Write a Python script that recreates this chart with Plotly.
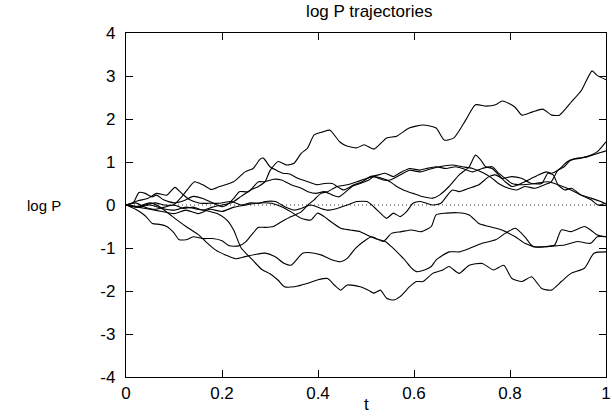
import plotly.graph_objects as go

TITLE = "log P trajectories"
X_LABEL = "t"
Y_LABEL = "log P"
X_TICKS = [0, 0.2, 0.4, 0.6, 0.8, 1.0]
X_TICK_TEXT = ["0", "0.2", "0.4", "0.6", "0.8", "1"]
Y_TICKS = [-4, -3, -2, -1, 0, 1, 2, 3, 4]
Y_TICK_TEXT = ["-4", "-3", "-2", "-1", "0", "1", "2", "3", "4"]
ZERO_T = [0, 1]
ZERO_V = [0, 0]

T_A = [0, .02, .04, .06, .08, .1, .12, .14, .16, .18, .2, .22, .24, .26, .276, .29, .3, .317, .335, .35, .365, .378, .392, .41, .425, .445, .46, .481, .496, .517, .543, .564, .59, .619, .646, .663, .683, .708, .728, .75, .77, .784, .81, .825, .846, .868, .887, .903, .928, .949, .971, .981, 1.0]
V_A = [0, .05, -.05, -.1, -.05, 0, -.08, -.05, -.12, -.05, 0, .05, .2, .35, .43, .55, .8, 1.01, .93, .97, 1.2, 1.32, 1.63, 1.7, 1.74, 1.47, 1.37, 1.33, 1.40, 1.30, 1.56, 1.6, 1.79, 1.86, 1.79, 1.51, 1.56, 1.98, 2.33, 2.3, 2.33, 2.42, 2.28, 2.09, 2.16, 2.23, 2.09, 2.09, 2.40, 2.67, 3.12, 3.02, 2.91]

T_B = [0, .015, .027, .04, .054, .064, .078, .1, .12, .14, .16, .18, .2, .21, .225, .236, .255, .276, .29, .307, .324, .344, .365, .379, .396, .413, .43, .444, .454, .471, .488, .506, .516, .533, .55, .564, .578, .598, .619, .639, .653, .673, .694, .715, .728, .739, .749, .763, .776, .79, .804, .817, .831, .845, .859, .876, .886, .9, .92, .941, .961, .982, 1.0]
V_B = [0, .05, .29, .27, .19, .23, .12, .05, .1, .2, .15, .05, -.04, 0, .16, .31, .31, .54, .54, .60, .58, .47, .39, .31, .27, .31, .23, .19, .27, .43, .50, .58, .66, .62, .54, .43, .35, .27, .19, .16, .23, .43, .70, .89, 1.16, 1.05, .89, .85, .70, .54, .43, .47, .54, .62, .70, .77, .74, .81, 1.01, 1.09, 1.12, 1.20, 1.26]

T_C = [0, .02, .04, .06, .08, .099, .116, .133, .143, .16, .178, .195, .224, .248, .265, .279, .286, .3, .313, .327, .341, .358, .379, .399, .413, .43, .44, .454, .475, .492, .509, .526, .54, .557, .574, .591, .612, .626, .646, .667, .687, .701, .722, .742, .763, .776, .79, .804, .824, .852, .879, .9, .927, .948, .969, .989, 1.0]
V_C = [0, -.05, 0, .05, 0, 0, .19, .43, .54, .47, .36, .43, .54, .77, .85, 1.06, 1.09, .89, .81, .74, .72, .62, .54, .47, .50, .50, .43, .35, .47, .54, .66, .70, .74, .66, .77, .85, .81, .85, .89, .85, .89, .85, .77, .85, .89, .74, .62, .50, .47, .50, .54, .47, .35, .23, .16, .08, .02]

T_D = [0, .02, .04, .055, .07, .085, .1, .11, .125, .14, .16, .18, .2, .215, .235, .25, .265, .276, .29, .307, .324, .344, .365, .379, .392, .406, .42, .44, .461, .481, .502, .516, .536, .55, .571, .591, .612, .626, .653, .68, .701, .722, .746, .763, .776, .797, .814, .831, .852, .872, .886, .9, .913, .927, .948, .969, .982, 1.0]
V_D = [0, -.1, -.25, -.43, -.45, -.5, -.65, -.8, -.81, -.74, -.78, -.78, -.83, -.95, -.95, -.85, -.65, -.52, -.52, -.5, -.39, -.27, -.16, 0, .12, .27, .31, .43, .47, .54, .62, .66, .58, .58, .70, .81, .77, .81, .89, .93, .89, .85, .74, .62, .50, .39, .35, .43, .39, .47, .54, .81, .89, 1.05, 1.09, 1.16, 1.24, 1.47]

T_E = [0, .025, .045, .064, .085, .102, .116, .133, .154, .174, .195, .22, .24, .26, .276, .29, .311, .331, .351, .365, .385, .406, .42, .44, .461, .481, .502, .516, .53, .543, .557, .571, .584, .598, .612, .626, .639, .656, .667, .68, .694, .715, .735, .756, .77, .783, .804, .824, .845, .866, .879, .89, .9, .914, .928, .948, .969, .983, 1.0]
V_E = [0, .1, .15, .27, .23, .41, .27, .12, .04, .04, .04, .08, 0, .05, .04, .08, .08, -.04, -.12, -.08, 0, -.08, -.12, -.08, 0, .08, .08, -.04, -.19, -.31, -.19, -.27, -.16, .04, .08, .04, 0, .04, .19, .35, .31, .39, .47, .66, .70, .62, .66, .62, .50, .50, .74, .70, .47, .35, .39, .23, .12, 0, .04]

T_F = [0, .025, .05, .075, .1, .125, .15, .175, .2, .225, .25, .27, .303, .324, .344, .365, .385, .399, .413, .427, .447, .467, .488, .502, .519, .54, .553, .567, .581, .595, .605, .622, .636, .646, .673, .694, .715, .742, .77, .79, .811, .831, .848, .872, .893, .914, .941, .968, .982, 1.0]
V_F = [0, -.05, -.1, -.15, -.2, -.12, -.2, -.1, -.15, -.05, 0, .04, .04, -.04, -.16, -.31, -.35, -.19, -.27, -.39, -.54, -.58, -.62, -.70, -.78, -.85, -.97, -1.12, -1.28, -1.47, -1.55, -1.51, -1.43, -1.28, -1.09, -1.09, -1.01, -.89, -.81, -.66, -.54, -.74, -.97, -.97, -.95, -.93, -.85, -.89, -.74, -.74]

T_G = [0, .025, .05, .07, .097, .125, .152, .166, .187, .207, .228, .248, .269, .29, .31, .33, .344, .368, .385, .406, .43, .447, .461, .478, .495, .512, .536, .553, .574, .595, .615, .636, .646, .667, .691, .715, .735, .756, .783, .811, .831, .852, .872, .893, .907, .927, .955, .968, .982, 1.0]
V_G = [0, -.03, .05, -.04, -.27, -.5, -.7, -.85, -1.05, -1.16, -1.25, -1.2, -1.15, -1.12, -1.2, -1.36, -1.40, -1.12, -1.11, -1.16, -1.28, -1.32, -1.24, -1.01, -.85, -.74, -.85, -.66, -.62, -.58, -.62, -.5, -.23, -.19, -.18, -.23, -.43, -.50, -.58, -.74, -.89, -.97, -.97, -.93, -.58, -.62, -.50, -.58, -.70, -.74]

T_H = [0, .025, .05, .075, .1, .125, .15, .175, .19, .205, .214, .225, .24, .262, .283, .3, .317, .33, .351, .379, .4, .42, .434, .447, .461, .488, .505, .516, .53, .543, .557, .571, .591, .605, .619, .639, .66, .673, .694, .715, .742, .766, .787, .804, .825, .845, .866, .886, .907, .927, .955, .975, 1.0]
V_H = [0, -.05, 0, -.08, -.12, -.05, -.1, -.15, -.2, -.3, -.4, -.6, -1.0, -1.26, -1.5, -1.6, -1.75, -1.9, -1.9, -1.82, -1.74, -1.71, -1.86, -1.98, -1.86, -1.9, -1.98, -2.05, -1.98, -2.17, -2.21, -2.13, -1.9, -1.78, -1.78, -1.59, -1.51, -1.43, -1.59, -1.40, -1.36, -1.51, -1.40, -1.71, -1.78, -1.67, -1.94, -1.98, -1.78, -1.59, -1.47, -1.12, -1.09]

SERIES = [(T_A, V_A), (T_B, V_B), (T_C, V_C), (T_D, V_D),
          (T_E, V_E), (T_F, V_F), (T_G, V_G), (T_H, V_H)]

FONT = "Liberation Sans, Arial, sans-serif"
FS = 17

fig = go.Figure()
fig.add_trace(go.Scatter(x=ZERO_T, y=ZERO_V, mode="lines",
                         line=dict(color="#333333", width=1, dash="1px,3px"),
                         hoverinfo="skip", showlegend=False))
for t, v in SERIES:
    assert len(t) == len(v)
    fig.add_trace(go.Scatter(x=t, y=v, mode="lines",
                             line=dict(color="black", width=1.1, shape="spline", smoothing=0.6),
                             showlegend=False))

axis_common = dict(showline=True, linecolor="black", linewidth=1.3, mirror="ticks",
                   ticks="inside", ticklen=7, tickcolor="black", tickwidth=1,
                   showgrid=False, zeroline=False, ticklabeloverflow="allow",
                   tickfont=dict(family=FONT, size=FS, color="black"))

fig.update_layout(
    width=612, height=419,
    margin=dict(l=126, r=1, t=33, b=42),
    paper_bgcolor="white", plot_bgcolor="white",
    title=dict(text=TITLE, x=0.6034, xanchor="center", y=1 - 11 / 419, yanchor="middle",
               font=dict(family=FONT, size=FS, color="black")),
    xaxis=dict(range=[0, 1], tickvals=X_TICKS, ticktext=X_TICK_TEXT, **axis_common),
    yaxis=dict(range=[-4, 4], tickvals=Y_TICKS, ticktext=Y_TICK_TEXT,
               ticklabelstandoff=6, **axis_common),
    annotations=[
        dict(text=X_LABEL, xref="paper", yref="paper", x=0.5, y=-0.08,
             xanchor="center", yanchor="middle", showarrow=False,
             font=dict(family=FONT, size=FS, color="black")),
        dict(text=Y_LABEL, xref="paper", yref="paper", x=-0.17, y=0.5,
             xanchor="center", yanchor="middle", showarrow=False,
             font=dict(family=FONT, size=FS - 2, color="black")),
    ],
)

fig.write_html("out.html")
